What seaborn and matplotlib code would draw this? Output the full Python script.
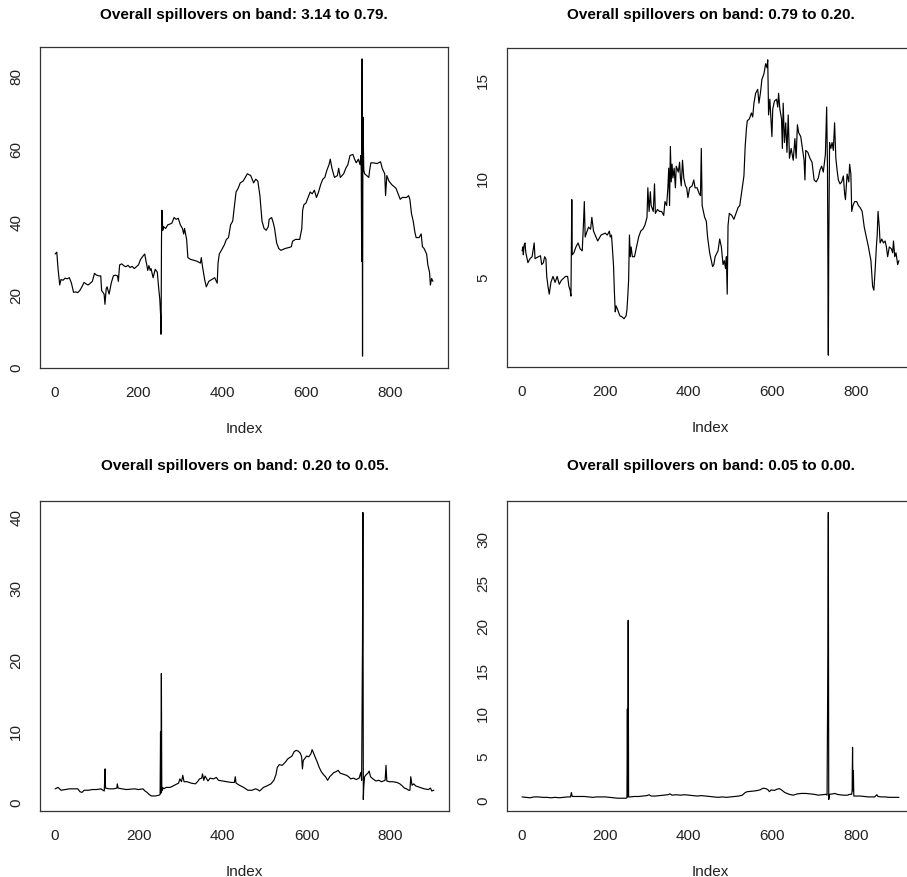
"""
Overall spillovers by frequency band: four index plots in R base-graphics style.
"""

import matplotlib
matplotlib.use("Agg")
import matplotlib.pyplot as plt
import numpy as np
import seaborn as sns

# ---------------------------------------------------------------------------
# Data (index positions and values)
# ---------------------------------------------------------------------------
band_titles = [
    "Overall spillovers on band: 3.14 to 0.79.",
    "Overall spillovers on band: 0.79 to 0.20.",
    "Overall spillovers on band: 0.20 to 0.05.",
    "Overall spillovers on band: 0.05 to 0.00.",
]

band1_idx = [1, 5, 8, 12, 15, 20, 25, 30, 35, 40, 45, 50, 55, 60, 65, 70, 75, 80, 85, 90,
             95, 100, 105, 110, 112, 115, 118, 120, 123, 125, 130, 135, 140, 145, 150, 152,
             155, 160, 165, 170, 175, 180, 185, 190, 195, 200, 205, 210, 215, 218, 220, 222,
             225, 228, 230, 235, 240, 245, 248, 251, 253, 254, 255, 256, 258, 260, 265, 270,
             275, 280, 285, 290, 295, 300, 305, 308, 310, 315, 318, 325, 332, 340, 348, 350,
             353, 358, 362, 368, 375, 382, 388, 390, 393, 398, 405, 410, 415, 420, 425, 430,
             433, 438, 443, 450, 455, 460, 468, 475, 480, 485, 490, 495, 500, 505, 510, 512,
             518, 522, 525, 530, 535, 540, 550, 560, 565, 568, 575, 585, 590, 592, 595, 600,
             605, 610, 615, 620, 625, 630, 635, 640, 645, 650, 655, 658, 662, 668, 675, 678,
             682, 690, 695, 700, 705, 712, 716, 720, 725, 729, 731, 732, 733, 734, 735, 736,
             738, 740, 745, 750, 752, 755, 760, 770, 778, 782, 788, 790, 793, 798, 805, 815,
             820, 825, 830, 840, 845, 848, 852, 856, 860, 863, 870, 875, 878, 882, 888, 891,
             895, 897, 900, 903]
band1_val = [31.0, 31.5, 27, 22.5, 24, 23.8, 24.4, 24.2, 24.5, 23, 20.5, 20.6, 20.4, 21, 22,
             23.2, 22.8, 22.5, 23, 23.5, 25.7, 25.2, 25, 25, 21, 20.5, 20, 17.2, 21.5, 22, 20,
             23, 25, 25.2, 25, 23.5, 28, 28.3, 27.8, 27.5, 27.9, 27.3, 27.6, 27, 27.5, 28, 29.5,
             30.3, 31, 29, 28, 26.5, 27.8, 26.5, 27, 24.5, 26.8, 26, 22, 18.5, 14, 9, 35, 43,
             37.5, 38.5, 38, 39, 39.2, 39.5, 41, 40.5, 40.8, 39, 38, 36.5, 38, 35, 30, 29.5,
             29.3, 29, 28.5, 30, 27.5, 24, 22, 23.5, 24, 24.5, 23, 28.5, 31, 32, 33.5, 35, 35.5,
             39, 40, 45, 48, 49, 50.5, 51, 52, 53, 52.5, 50.5, 51.5, 51, 47, 40, 38, 37.5, 38.5,
             40.5, 41, 39.5, 38, 34, 32.5, 32, 32.5, 32.8, 33, 34.5, 35, 35, 38, 43, 44.5, 45,
             46.5, 48, 47.5, 48.5, 46.5, 48, 50, 51.5, 52, 54, 55.5, 57, 54.5, 52, 52.5, 54.5,
             52, 53, 54.5, 55.5, 58, 58.3, 57, 56, 57, 55.5, 58, 54, 29, 84.5, 3, 68.5, 54, 53,
             52.5, 52, 54, 56, 56, 55.8, 56.3, 54.5, 53, 47, 52.5, 51, 50, 49, 47.5, 46, 46.5,
             46.5, 47, 46, 42, 40, 37, 35.5, 35.5, 36.5, 33, 32.5, 31, 28, 26, 22.5, 24.3, 23.5]

band2_idx = [1, 3, 4, 6, 8, 10, 12, 15, 20, 25, 30, 32, 40, 45, 48, 52, 55, 58, 60, 63, 66,
             70, 75, 80, 85, 90, 95, 100, 105, 110, 113, 116, 118, 119, 120, 121, 125, 130,
             135, 140, 145, 148, 150, 152, 155, 160, 165, 168, 172, 178, 182, 190, 200, 205,
             210, 212, 215, 217, 220, 222, 224, 226, 230, 235, 240, 245, 250, 252, 254, 256,
             258, 260, 262, 265, 270, 275, 280, 285, 290, 295, 300, 302, 305, 308, 310, 315,
             318, 320, 325, 330, 335, 340, 343, 347, 350, 352, 354, 356, 358, 360, 362, 365,
             368, 370, 375, 378, 380, 382, 385, 388, 392, 395, 398, 402, 408, 412, 415, 420,
             425, 428, 430, 432, 435, 438, 442, 445, 450, 453, 457, 460, 463, 470, 474, 478,
             482, 485, 488, 490, 492, 494, 497, 503, 508, 513, 518, 522, 528, 532, 535, 538,
             540, 545, 550, 553, 556, 560, 565, 568, 572, 575, 580, 584, 587, 589, 591, 594,
             597, 599, 601, 605, 610, 613, 615, 618, 622, 624, 626, 629, 632, 635, 638, 641,
             645, 650, 654, 657, 660, 663, 668, 672, 676, 678, 680, 685, 690, 695, 700, 705,
             710, 714, 718, 722, 727, 730, 732, 734, 735, 737, 740, 743, 746, 749, 752, 755,
             758, 762, 766, 770, 773, 775, 779, 783, 785, 788, 790, 793, 797, 802, 806, 810,
             815, 820, 825, 830, 836, 840, 843, 846, 849, 851, 853, 856, 858, 862, 866, 870,
             873, 876, 880, 885, 888, 890, 893, 896, 900, 903]
band2_val = [6.3, 6.5, 6.1, 6.6, 6.7, 6.2, 6.0, 5.7, 5.9, 6.0, 6.7, 5.9, 6.0, 6.05, 5.6, 5.7,
             6.0, 5.9, 5.0, 4.5, 4.1, 4.7, 5.0, 4.7, 5.0, 4.6, 4.8, 4.9, 5.0, 5.0, 4.5, 4.3,
             4.0, 6.8, 8.9, 6.1, 6.2, 6.5, 6.7, 6.4, 6.3, 7.7, 8.8, 7.0, 7.2, 7.5, 7.4, 8.0,
             7.3, 7.0, 6.8, 7.1, 7.2, 7.1, 7.3, 7.0, 7.1, 6.5, 5.5, 4.2, 3.2, 3.5, 3.3, 3.0,
             2.95, 2.85, 3.0, 3.3, 4.0, 4.8, 7.1, 6.0, 6.5, 6.0, 6.0, 6.5, 7.0, 7.3, 7.4, 7.6,
             8.0, 9.5, 8.3, 9.3, 8.6, 8.3, 9.7, 8.2, 8.4, 8.3, 8.3, 8.1, 8.8, 8.6, 9.5, 10.5,
             8.6, 11.6, 9.8, 10.7, 10.0, 10.5, 9.5, 10.6, 10.3, 10.8, 10.0, 9.6, 10.9, 10.0,
             9.6, 9.5, 9.0, 9.5, 9.6, 9.9, 9.5, 9.5, 9.2, 9.1, 11.5, 8.6, 8.3, 8.0, 7.8, 7.0,
             6.2, 5.9, 5.5, 5.6, 6.0, 6.3, 6.9, 6.5, 5.6, 5.8, 5.4, 6.0, 4.1, 7.6, 8.2, 8.1,
             7.9, 8.2, 8.5, 8.6, 9.5, 10.1, 11.6, 12.5, 12.9, 13.0, 13.3, 13.1, 13.8, 14.3,
             14.5, 13.8, 14.4, 15.0, 15.3, 15.8, 15.6, 16.0, 13.2, 14.0, 12.8, 12.1, 13.5,
             13.9, 14.0, 13.6, 14.3, 13.5, 13.0, 11.5, 13.8, 11.8, 12.8, 11.3, 13.2, 11.0,
             11.5, 10.9, 12.0, 11.0, 12.7, 12.3, 12.1, 11.5, 10.9, 9.9, 11.4, 11.3, 11.0,
             10.8, 9.9, 9.8, 10.0, 10.4, 10.6, 10.3, 11.2, 13.6, 10.5, 1.0, 6.4, 11.8, 11.5,
             11.8, 11.4, 12.8, 11.0, 10.4, 9.9, 9.7, 9.8, 10.1, 9.2, 8.9, 10.2, 9.8, 10.7,
             10.2, 8.3, 8.6, 8.8, 8.8, 8.6, 8.5, 8.3, 7.5, 7.0, 6.5, 5.8, 4.5, 4.3, 5.3, 6.5,
             7.1, 8.3, 7.5, 6.7, 6.9, 6.7, 6.8, 6.5, 6.0, 6.5, 6.4, 6.2, 6.8, 6.0, 6.2, 5.6,
             5.8]

band3_idx = [1, 8, 15, 25, 35, 45, 55, 60, 65, 70, 80, 90, 100, 110, 115, 118, 119, 120, 121,
             130, 140, 148, 149, 151, 160, 170, 180, 190, 200, 210, 215, 220, 225, 230, 240,
             248, 251, 252, 253, 254, 255, 257, 260, 265, 275, 285, 295, 298, 302, 305, 308,
             315, 325, 335, 340, 345, 350, 352, 355, 358, 362, 365, 370, 378, 385, 390, 400,
             410, 420, 428, 430, 432, 440, 450, 460, 470, 478, 483, 488, 492, 497, 505, 515,
             522, 527, 530, 535, 542, 550, 555, 560, 565, 570, 575, 580, 585, 588, 590, 592,
             595, 600, 605, 610, 613, 616, 620, 625, 630, 635, 640, 645, 650, 655, 660, 665,
             670, 675, 680, 685, 690, 695, 700, 705, 712, 718, 725, 729, 731, 733, 734, 735,
             736, 738, 742, 746, 749, 752, 758, 765, 772, 778, 783, 787, 789, 791, 797, 805,
             815, 822, 828, 833, 838, 843, 846, 848, 851, 855, 860, 870, 880, 890, 895, 898,
             903]
band3_val = [1.8, 2.0, 1.6, 1.7, 1.8, 1.8, 1.8, 1.4, 1.3, 1.6, 1.6, 1.7, 1.7, 1.8, 1.6, 1.5,
             3.0, 4.6, 1.9, 1.8, 1.8, 1.9, 2.5, 1.9, 1.8, 1.7, 1.75, 1.8, 1.7, 1.8, 1.5, 1.3,
             1.0, 0.8, 0.8, 0.9, 1.0, 9.8, 1.2, 18.0, 1.5, 2.0, 1.8, 2.0, 2.0, 2.3, 2.6, 3.2,
             2.8, 3.7, 2.8, 2.8, 2.6, 2.5, 2.8, 3.2, 3.3, 3.9, 3.0, 3.6, 3.2, 2.9, 3.3, 3.2,
             3.4, 3.0, 2.9, 2.8, 2.7, 2.7, 3.5, 2.6, 2.3, 2.0, 1.6, 1.6, 1.8, 1.7, 1.5, 1.7,
             2.0, 2.2, 2.5, 3.0, 3.8, 4.8, 5.2, 5.1, 5.6, 6.0, 6.2, 6.4, 7.0, 7.2, 7.1, 6.8,
             6.3, 4.6, 5.8, 6.0, 6.4, 6.3, 6.7, 7.3, 6.9, 6.3, 5.6, 4.8, 4.2, 3.8, 3.5, 3.0,
             3.5, 3.8, 4.1, 4.2, 4.4, 4.0, 3.9, 3.8, 3.7, 3.5, 3.2, 3.3, 3.1, 3.3, 4.1, 3.0,
             22.2, 40.6, 0.3, 2.0, 3.5, 3.8, 4.0, 4.3, 3.5, 3.2, 2.9, 3.0, 2.8, 2.9, 3.0, 5.1,
             2.9, 2.8, 2.8, 2.7, 2.5, 2.2, 1.9, 1.8, 1.6, 1.6, 3.5, 2.3, 2.5, 2.2, 2.0, 1.8,
             1.7, 1.9, 1.5, 1.6]

band4_idx = [1, 10, 20, 30, 40, 50, 60, 70, 80, 90, 100, 110, 117, 119, 121, 130, 140, 150,
             160, 170, 180, 190, 200, 210, 220, 230, 240, 250, 252, 253, 254, 255, 256, 260,
             270, 280, 290, 300, 305, 310, 320, 330, 340, 350, 355, 360, 370, 380, 390, 400,
             410, 420, 430, 440, 450, 460, 470, 480, 490, 500, 510, 520, 528, 535, 540, 550,
             560, 570, 578, 585, 590, 593, 597, 605, 612, 617, 622, 630, 640, 650, 660, 670,
             680, 690, 700, 710, 720, 728, 731, 733, 734, 735, 737, 745, 750, 755, 760, 770,
             780, 786, 790, 791, 792, 793, 794, 795, 800, 810, 820, 830, 840, 845, 850, 853,
             860, 870, 880, 890, 903]
band4_val = [0.3, 0.25, 0.2, 0.3, 0.3, 0.25, 0.25, 0.2, 0.25, 0.2, 0.25, 0.3, 0.3, 0.8, 0.35,
             0.35, 0.35, 0.35, 0.3, 0.25, 0.3, 0.3, 0.3, 0.25, 0.2, 0.15, 0.15, 0.15, 0.2,
             10.4, 0.3, 20.6, 0.3, 0.3, 0.35, 0.35, 0.4, 0.45, 0.55, 0.4, 0.4, 0.45, 0.5,
             0.55, 0.65, 0.5, 0.55, 0.5, 0.55, 0.5, 0.45, 0.4, 0.45, 0.4, 0.35, 0.3, 0.25,
             0.3, 0.25, 0.3, 0.35, 0.4, 0.5, 0.8, 0.9, 0.95, 1.0, 1.1, 1.3, 1.25, 1.1, 0.9,
             1.1, 1.05, 1.2, 1.25, 1.1, 0.8, 0.6, 0.5, 0.65, 0.7, 0.7, 0.65, 0.6, 0.5, 0.55,
             0.6, 0.5, 16.9, 33.0, 0.0, 0.6, 0.65, 0.7, 0.6, 0.55, 0.5, 0.5, 0.6, 0.6, 1.0,
             6.0, 1.0, 3.3, 0.4, 0.4, 0.4, 0.35, 0.3, 0.3, 0.3, 0.55, 0.35, 0.3, 0.3, 0.25,
             0.25, 0.25]

y_ticks = [
    [0, 20, 40, 60, 80],
    [5, 10, 15],
    [0, 10, 20, 30, 40],
    [0, 5, 10, 15, 20, 25, 30],
]
x_ticks = [0, 200, 400, 600, 800]

# ---------------------------------------------------------------------------
# Layout (pixel boxes measured on the 907x878 reference)
# ---------------------------------------------------------------------------
FIG_W, FIG_H = 907, 878
# left, top, right, bottom of each plot box in pixels
boxes = [
    (40, 48, 448, 369),
    (507, 49, 914, 368),
    (40, 502, 449, 812),
    (507, 502, 914, 812),
]
title_y = [15, 15, 466, 466]


def draw_panel(fig, box, ty, idx, vals, title, yticks):
    """Draw one R-style index plot into a pixel box of the figure."""
    l, t, r, b = box
    ax = fig.add_axes([l / FIG_W, 1 - b / FIG_H, (r - l) / FIG_W, (b - t) / FIG_H])

    sns.lineplot(x=idx, y=vals, ax=ax, color="black", linewidth=0.85,
                 estimator=None, sort=False)

    # R pads the data range by 4% on each side
    n_lo, n_hi = 1, 903
    xpad = 0.04 * (n_hi - n_lo)
    ax.set_xlim(n_lo - xpad, n_hi + xpad)
    y_lo, y_hi = min(vals), max(vals)
    ypad = 0.04 * (y_hi - y_lo)
    ax.set_ylim(y_lo - ypad, y_hi + ypad)

    ax.set_xticks(x_ticks)
    ax.set_yticks(yticks)
    ax.set_yticklabels([str(v) for v in yticks], rotation=90, va="center")
    ax.tick_params(direction="out", length=6, width=0.8, colors="#222222",
                   labelsize=11, labelcolor="#222222", pad=6)
    ax.set_xlabel("Index", fontsize=11, color="#222222", labelpad=16)
    ax.set_ylabel("")

    for spine in ax.spines.values():
        spine.set_visible(True)
        spine.set_color("#333333")
        spine.set_linewidth(0.9)

    fig.text((l + r) / 2 / FIG_W, 1 - ty / FIG_H, title, ha="center", va="center",
             fontsize=11, fontweight="bold", color="black")
    return ax


# Create figure
sns.set_style("white")
plt.rcParams["font.family"] = ["Liberation Sans", "DejaVu Sans"]
fig = plt.figure(figsize=(FIG_W / 100, FIG_H / 100), dpi=100)

series = [(band1_idx, band1_val), (band2_idx, band2_val),
          (band3_idx, band3_val), (band4_idx, band4_val)]
for k, (idx, vals) in enumerate(series):
    draw_panel(fig, boxes[k], title_y[k], idx, vals, band_titles[k], y_ticks[k])

# Save
fig.savefig("out.png", dpi=100)
plt.close(fig)
